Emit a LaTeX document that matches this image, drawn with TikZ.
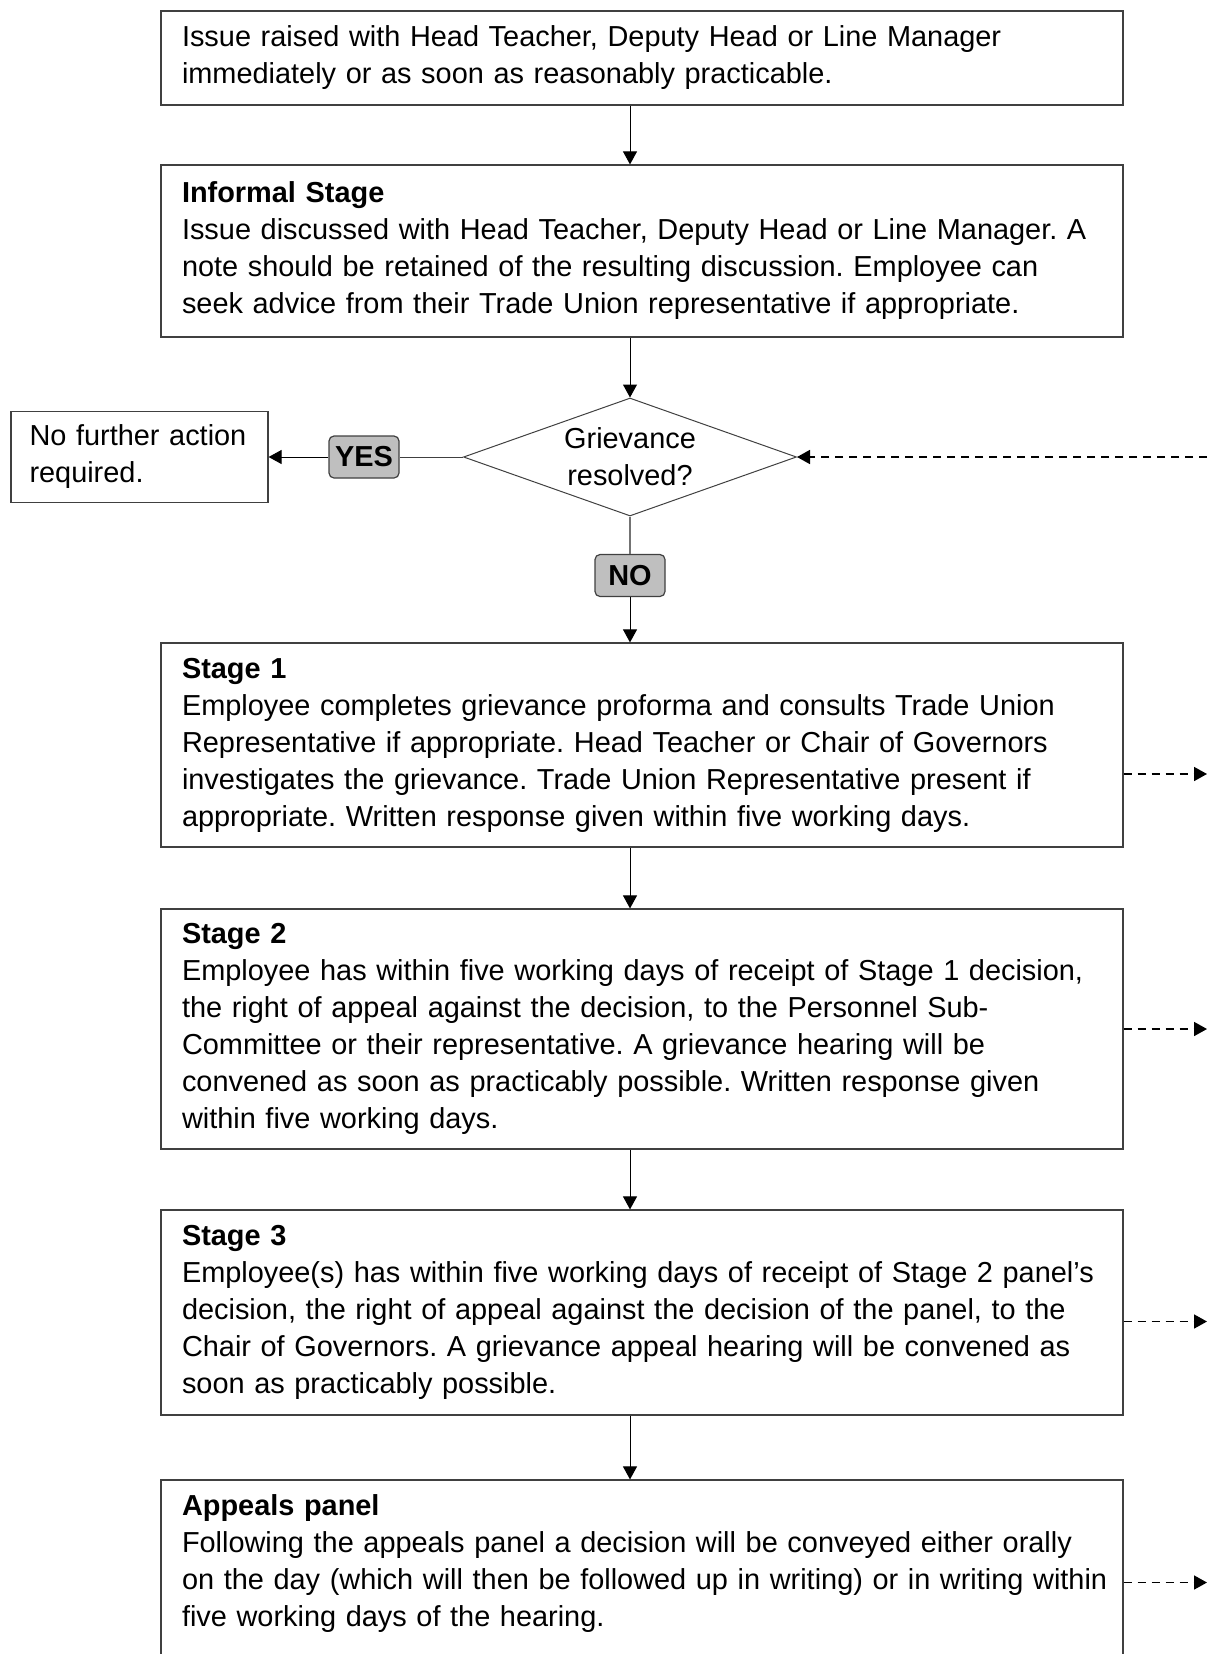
\documentclass[tikz,border=0pt]{standalone}
\usepackage{fontspec}
\setmainfont{Liberation Sans}
\frenchspacing
\usepackage{tikz}
\usetikzlibrary{shapes,arrows.meta}
\definecolor{boxline}{gray}{0.25}
\definecolor{tagfill}{gray}{0.75}
\tikzstyle{line} = [draw, line width=0.5pt, -{Triangle[length=6.5pt,width=7pt]}]
\tikzstyle{dashline} = [draw, line width=0.8pt, dash pattern=on 4pt off 3pt, -{Triangle[length=6.5pt,width=7pt]}]
\tikzstyle{stagebox} = [rectangle, draw=boxline, line width=0.6pt, text width=460pt, inner xsep=10.5pt, inner ysep=0pt, align=left]
\tikzstyle{notebox} = [rectangle, draw=boxline, line width=0.6pt, text width=110pt, inner xsep=9.25pt, inner ysep=0pt, minimum height=45.5pt, align=left]
\tikzstyle{decision} = [diamond, draw=boxline, line width=0.5pt, aspect=2.82, inner sep=0pt, minimum width=166.5pt, minimum height=59pt, align=center]
\tikzstyle{tag} = [rectangle, rounded corners=2.5pt, draw=boxline, fill=tagfill, line width=0.6pt, minimum width=35pt, minimum height=21pt, inner sep=0pt, font=\fontsize{14.45}{18.5}\selectfont\bfseries]

\begin{document}
\begin{tikzpicture}[every node/.style={font=\fontsize{14.45}{18.5}\selectfont}]
	\useasboundingbox (0,0) rectangle (603.5pt,-827pt);
	\coordinate (edge) at (603.5pt,0);

	\node [stagebox, minimum height=47pt] (raised) at (321pt,-29pt) {\strut Issue raised with Head Teacher, Deputy Head or Line Manager\\immediately or as soon as reasonably practicable.\strut};
	\node [stagebox, below of=raised, node distance=96.5pt, minimum height=86pt] (informal) {\strut\textbf{Informal Stage}\\Issue discussed with Head Teacher, Deputy Head or Line Manager. A\\note should be retained of the resulting discussion. Employee can\\seek advice from their Trade Union representative if appropriate.\strut};

	\node [decision, below of=informal, xshift=-6pt, node distance=103pt] (resolved) {Grievance\\resolved?};
	\node [tag, below of=resolved, node distance=59.25pt] (no) {NO};
	\node [tag, left of=resolved, node distance=133pt] (yes) {YES};
	\node [notebox, left of=yes, node distance=112.25pt] (nfa) {\strut No further action\\required.\strut};

	\node [stagebox, below of=informal, node distance=247pt, minimum height=102pt] (stage1) {\strut\textbf{Stage 1}\\Employee completes grievance proforma and consults Trade Union\\Representative if appropriate. Head Teacher or Chair of Governors\\investigates the grievance. Trade Union Representative present if\\appropriate. Written response given within five working days.\strut};
	\node [stagebox, below of=stage1, node distance=142pt, minimum height=120pt] (stage2) {\strut\textbf{Stage 2}\\Employee has within five working days of receipt of Stage 1 decision,\\the right of appeal against the decision, to the Personnel Sub-\\Committee or their representative. A grievance hearing will be\\convened as soon as practicably possible. Written response given\\within five working days.\strut};
	\node [stagebox, below of=stage2, node distance=141.75pt, minimum height=102.5pt] (stage3) {\strut\textbf{Stage 3}\\Employee(s) has within five working days of receipt of Stage 2 panel’s\\decision, the right of appeal against the decision of the panel, to the\\Chair of Governors. A grievance appeal hearing will be convened as\\soon as practicably possible.\strut};
	\node [stagebox, below of=stage3, node distance=135pt, minimum height=102.5pt] (appeals) {\strut\textbf{Appeals panel}\\Following the appeals panel a decision will be conveyed either orally\\\mbox{on the day (which will then be followed up in writing) or in writing within}\\five working days of the hearing.\\\strut};

	\path [line] (raised.south -| resolved) to (informal.north -| resolved);
	\path [line] (informal.south -| resolved) to (resolved.north);
	\draw [boxline, line width=0.5pt] (resolved.west) -- (yes.east);
	\path [line] (yes.west) to (yes.west -| nfa.east);
	\draw [black!55, line width=0.6pt] (resolved.south) -- (no.north);
	\path [line] (no.south) to (stage1.north -| no);
	\path [line] (stage1.south -| resolved) to (stage2.north -| resolved);
	\path [line] (stage2.south -| resolved) to (stage3.north -| resolved);
	\path [line] (stage3.south -| resolved) to (appeals.north -| resolved);

	\path [dashline] (edge |- resolved) to (resolved.east);
	\path [dashline] ([yshift=-14.5pt]stage1.east) to ([yshift=-14.5pt]stage1.east -| edge);
	\path [dashline] (stage2.east) to (stage2.east -| edge);
	\path [dashline] ([yshift=-4.5pt]stage3.east) to ([yshift=-4.5pt]stage3.east -| edge);
	\path [dashline] (appeals.east) to (appeals.east -| edge);
\end{tikzpicture}
\end{document}
